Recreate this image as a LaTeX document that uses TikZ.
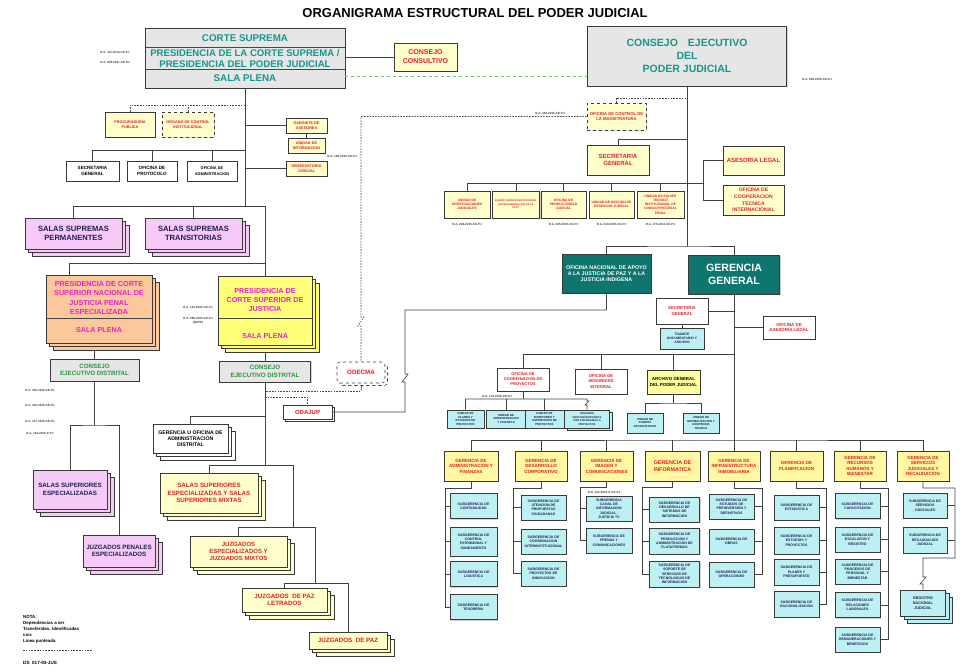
\documentclass[tikz,border=0pt]{standalone}
\usepackage{fontspec}
\setmainfont{Liberation Sans}
\usepackage{xcolor}
\usetikzlibrary{shadows}

\definecolor{redtxt}{RGB}{232,28,36}
\definecolor{tealtxt}{RGB}{22,150,140}
\definecolor{tealbox}{RGB}{14,118,110}
\definecolor{navytxt}{RGB}{30,30,85}
\definecolor{magtxt}{RGB}{238,30,205}
\definecolor{greentxt}{RGB}{40,150,60}
\definecolor{ylight}{RGB}{255,255,204}
\definecolor{ygold}{RGB}{255,248,160}
\definecolor{ybright}{RGB}{255,255,120}
\definecolor{orangebox}{RGB}{250,200,155}
\definecolor{pinkbox}{RGB}{246,202,246}
\definecolor{cyanbox}{RGB}{188,240,242}
\definecolor{grayfill}{RGB}{230,230,230}
\definecolor{panelc}{RGB}{196,196,226}
\definecolor{dashgreen}{RGB}{90,215,90}

\newcommand{\fsz}[2]{\fontsize{#1}{#2}\selectfont\bfseries}

\tikzset{box/.style={draw=gray!45!black, line width=0.55pt, align=center, inner sep=1pt,
                     drop shadow={shadow xshift=1.2pt, shadow yshift=-1.2pt, opacity=0.35}},
         graybox/.style={box, fill=grayfill},
         ybox/.style={box, fill=ylight, text=redtxt},
         wbox/.style={box, fill=white, text=black},
         rbox/.style={box, fill=white, text=redtxt},
         pbox/.style={box, fill=pinkbox, text=navytxt, stack},
         cbox/.style={box, fill=cyanbox, text=navytxt},
         tbox/.style={box, fill=tealbox, text=white},
         ger/.style={box, line width=0.75pt, fill=ygold, text=redtxt, font=\fsz{4.5}{5.5}, minimum height=30},
         sub/.style={cbox, font=\fsz{3.5}{4.3}, minimum width=45, minimum height=25},
         stack/.style={double copy shadow={shadow xshift=3.5pt, shadow yshift=-3.5pt}},
         lbl/.style={align=center, inner sep=0},
         ra/.style={font=\fsz{3}{3.6}, text=gray!50!black, inner sep=0, align=center},
         dline/.style={gray!60!black, line width=0.6pt, dash pattern=on 1.6pt off 1.2pt},
         conn/.style={gray!50!black, line width=0.6pt},
         panel/.style={draw=panelc, double=white, double distance=1.2pt, line width=0.5pt}}

\begin{document}
\begin{tikzpicture}[x=1pt, y=-1pt]
        \useasboundingbox (0,0) rectangle (965,671);

        % Panels
        \draw[panel] (10,200) rectangle (425,667);
        \draw[panel] (428,238) rectangle (962,667);

        % Title
        \node[lbl, font=\fsz{13}{15}] (title) at (475,13) {ORGANIGRAMA ESTRUCTURAL DEL PODER JUDICIAL};

        % Nodes: Corte Suprema
        \node[graybox, minimum width=200, minimum height=60] (cs) at (245,58) {};
        \node[lbl, text=tealtxt, font=\fsz{9.8}{10.4}] (cs1) at (245,38.5) {CORTE SUPREMA};
        \node[lbl, text=tealtxt, font=\fsz{9.6}{10.2}] (cs2) at (245,58.5) {PRESIDENCIA DE LA CORTE SUPREMA /\\PRESIDENCIA DEL PODER JUDICIAL};
        \node[lbl, text=tealtxt, font=\fsz{9.8}{10.4}] (cs3) at (245,78) {SALA PLENA};
        \draw[gray!55!black] (cs.west |- 0,47) -- (cs.east |- 0,47);
        \draw[gray!55!black] (cs.west |- 0,69) -- (cs.east |- 0,69);
        \node[ybox, minimum width=63, minimum height=28, font=\fsz{7}{9}] (ccons) at (425.5,57) {CONSEJO\\CONSULTIVO};
        \node[ra] (ra1) at (115,52) {R.A. 111-2016-CE-PJ};
        \node[ra] (ra2) at (115,62) {R.A. 209-2011-CE-PJ};

        \node[ybox, minimum width=50, minimum height=25, font=\fsz{3.8}{5}] (proc) at (130,124.5) {PROCURADURIA\\PUBLICA};
        \node[ybox, dashed, minimum width=52, minimum height=25, font=\fsz{3.8}{5}] (oci) at (188,124.5) {ORGANO DE CONTROL\\INSTITUCIONAL};
        \node[wbox, minimum width=53, minimum height=20, font=\fsz{4.6}{6.2}] (sgen) at (92.5,171) {SECRETARIA\\GENERAL};
        \node[wbox, minimum width=50, minimum height=20, font=\fsz{4.6}{6.2}] (prot) at (152,171) {OFICINA DE\\PROTOCOLO};
        \node[wbox, minimum width=50, minimum height=20, font=\fsz{3.9}{5.4}] (oadm) at (212,171) {OFICINA DE\\ADMINISTRACION};
        \node[ybox, minimum width=41, minimum height=15, font=\fsz{3.8}{4.8}] (gab) at (306.5,125.5) {GABINETE DE\\ASESORES};
        \node[ybox, minimum width=37, minimum height=15, font=\fsz{3.8}{4.8}] (uinf) at (306.5,145.5) {UNIDAD DE\\INFORMACION};
        \node[ybox, minimum width=41, minimum height=15, font=\fsz{3.8}{4.8}] (obs) at (306.5,168.5) {OBSERVATORIO\\JUDICIAL};
        \node[ra] (ra5) at (342,156) {R.A. 108-2016-CE-PJ};

        % Nodes: left panel
        \node[pbox, minimum width=97, minimum height=31, font=\fsz{7.6}{9}] (ssp) at (73.5,233.5) {SALAS SUPREMAS\\PERMANENTES};
        \node[pbox, minimum width=97, minimum height=31, font=\fsz{7.6}{9}] (sst) at (193.5,233.5) {SALAS SUPREMAS\\TRANSITORIAS};

        \node[box, fill=orangebox, stack, minimum width=106, minimum height=68] (psn) at (99,309) {};
        \node[lbl, text=magtxt, font=\fsz{7.2}{9.4}] (psn1) at (99,298) {PRESIDENCIA DE CORTE\\SUPERIOR NACIONAL DE\\JUSTICIA PENAL\\ESPECIALIZADA};
        \node[lbl, text=magtxt, font=\fsz{7.2}{9.4}] (psn2) at (99,330.5) {SALA PLENA};
        \draw[gray!55!black] (psn.west |- 0,318) -- (psn.east |- 0,318);

        \node[box, fill=ybright, stack, minimum width=94, minimum height=69] (psj) at (265,310.5) {};
        \node[lbl, text=magtxt, font=\fsz{7.2}{9.4}] (psj1) at (265,300) {PRESIDENCIA DE\\CORTE SUPERIOR DE\\JUSTICIA};
        \node[lbl, text=magtxt, font=\fsz{7.2}{9.4}] (psj2) at (265,336.5) {SALA PLENA};
        \draw[gray!55!black] (psj.west |- 0,318) -- (psj.east |- 0,318);
        \node[ra] (ra10) at (198,307) {R.A. 103-2016-CE-PJ};
        \node[ra] (ra11) at (198,321) {R.A. 096-2016-CE-PJ\\(NCPP)};

        \node[graybox, text=greentxt, minimum width=89, minimum height=22, font=\fsz{6.2}{7.7}] (ced1) at (94.5,370) {CONSEJO\\EJECUTIVO DISTRITAL};
        \node[graybox, text=greentxt, minimum width=91, minimum height=21, font=\fsz{6.2}{7.7}] (ced2) at (265,371.5) {CONSEJO\\EJECUTIVO DISTRITAL};
        \node[ra] (ra12) at (40,390) {R.A. 318-2016-CE-PJ};
        \node[ra] (ra13) at (40,405) {R.A. 316-2016-CE-PJ};
        \node[ra] (ra14) at (40,421) {R.A. 317-2016-CE-PJ};
        \node[ra] (ra15) at (40,433) {R.A. 318-2016-P-PJ};

        \node[pbox, minimum width=74, minimum height=39, font=\fsz{6.2}{7.3}] (sse) at (70,489.5) {SALAS SUPERIORES\\ESPECIALIZADAS};
        \node[pbox, minimum width=72, minimum height=32, font=\fsz{6.2}{7.3}] (jpe) at (119,551) {JUZGADOS PENALES\\ESPECIALIZADOS};

        \node[wbox, stack, minimum width=75, minimum height=29, font=\fsz{5.2}{6.2}] (goad) at (190.5,438.5) {GERENCIA U OFICINA DE\\ADMINISTRACION\\DISTRITAL};
        \node[ybox, stack, minimum width=98, minimum height=40, font=\fsz{6.2}{7.3}] (ssesm) at (209,493) {SALAS SUPERIORES\\ESPECIALIZADAS Y SALAS\\SUPERIORES MIXTAS};
        \node[ybox, stack, minimum width=97, minimum height=31, font=\fsz{6}{7.3}] (jem) at (238.5,551.5) {JUZGADOS\\ESPECIALIZADOS Y\\JUZGADOS MIXTOS};
        \node[ybox, stack, minimum width=85, minimum height=24, font=\fsz{6.2}{7.3}] (jpl) at (284.5,600) {JUZGADOS\ \ DE PAZ\\LETRADOS};
        \node[ybox, stack, minimum width=78, minimum height=17, font=\fsz{6.2}{7.3}] (jp) at (348,640.5) {JUZGADOS\ \ DE PAZ};

        \node[box, dashed, rounded corners=3pt, fill=white, text=redtxt, copy shadow={shadow xshift=2.5pt, shadow yshift=-2.5pt}, minimum width=48, minimum height=21, font=\fsz{6.2}{7}] (odecma) at (361,372.5) {ODECMA};
        \node[box, fill=white, text=redtxt, copy shadow={shadow xshift=2.5pt, shadow yshift=-2.5pt}, minimum width=49, minimum height=14, font=\fsz{6}{7}] (odajup) at (307.5,412) {ODAJUP};

        \node[lbl, align=left, anchor=north west, font=\fsz{4.4}{6}] (nota) at (23,615) {NOTA:\\Dependencias a ser\\Transferidas. Identificadas\\con:\\Linea punteada};
        \node[lbl, anchor=west, font=\fsz{4.6}{5}] (ds) at (23,663) {DS\ \ 017-93-JUS};
        \draw[dline] (nota.south west) ++(0,7) -- ++(70,0);

        % Nodes: Consejo Ejecutivo
        \node[graybox, text=tealtxt, minimum width=199, minimum height=60, font=\fsz{10.5}{12.7}] (ce) at (687,56) {CONSEJO\hspace{10pt}EJECUTIVO\\DEL\\PODER JUDICIAL};
        \node[ra] (ra3) at (817,79) {R.A. 000-2016-CE-PJ};
        \node[ra] (ra4) at (550,113) {R.A. 392-2015-CE-PJ};
        \node[ybox, dashed, minimum width=59, minimum height=27, font=\fsz{4.2}{5.6}] (ocma) at (616.5,116.5) {OFICINA DE CONTROL DE\\LA MAGISTRATURA};
        \node[ybox, minimum width=62, minimum height=30, font=\fsz{6}{7.7}] (sgce) at (618,160) {SECRETARIA\\GENERAL};
        \node[ybox, minimum width=61, minimum height=29, font=\fsz{6}{7.7}] (al) at (753.5,160.5) {ASESORIA LEGAL};
        \node[ybox, minimum width=61, minimum height=30, font=\fsz{5.1}{6.7}] (octi) at (753.5,200) {OFICINA DE\\COOPERACION\\TECNICA\\INTERNACIONAL};

        \node[ybox, minimum width=46, minimum height=27, font=\fsz{3.3}{4.3}] (u1) at (467,204.5) {UNIDAD DE\\INVESTIGACIONES\\JUDICIALES};
        \node[ybox, minimum width=47, minimum height=27, font=\fsz{2.5}{3.5}] (u2) at (516,204.5) {EQUIPO TECNICO INSTITUCIONAL\\DE IMPLEMENTACION DE LA\\NLPT};
        \node[ybox, minimum width=45, minimum height=27, font=\fsz{3.3}{4.3}] (u3) at (563.5,204.5) {OFICINA DE\\PRODUCTIVIDAD\\JUDICIAL};
        \node[ybox, minimum width=45, minimum height=27, font=\fsz{3.3}{4.3}] (u4) at (611.5,204.5) {UNIDAD DE GESTION DE\\DESPACHO JUDICIAL};
        \node[ybox, minimum width=47, minimum height=27, font=\fsz{3.3}{4.3}] (u5) at (660.5,204.5) {UNIDAD DE EQUIPO\\TECNICO\\INSTITUCIONAL DE\\CODIGO PROCESAL\\PENAL};
        \node[ra] (ra6) at (467,224) {R.A. 208-2015-CE-PJ};
        \node[ra] (ra7) at (563.5,224) {R.A. 325-2015-CE-PJ};
        \node[ra] (ra8) at (611.5,224) {R.A. 318-2015-CE-PJ};
        \node[ra] (ra9) at (660.5,224) {R.A. 178-2011-CE-PJ};

        % Nodes: right panel
        \node[tbox, minimum width=89, minimum height=39, font=\fsz{5.3}{6.3}] (onajup) at (606.5,273.5) {OFICINA NACIONAL DE APOYO\\A LA JUSTICIA DE PAZ Y A LA\\JUSTICIA INDIGENA};
        \node[tbox, minimum width=91, minimum height=39, font=\fsz{10.6}{13.5}] (gg) at (734,274.5) {GERENCIA\\GENERAL};
        \node[rbox, minimum width=52, minimum height=26, font=\fsz{4.3}{5.4}] (sggg) at (682,311) {SECRETARIA\\GENERAL};
        \node[cbox, minimum width=44, minimum height=21, font=\fsz{3.3}{4.2}] (tda) at (682,338.5) {TRAMITE\\DOCUMENTARIO Y\\ARCHIVO};
        \node[rbox, minimum width=52, minimum height=23, font=\fsz{4.4}{5.4}] (oal) at (789,327.5) {OFICINA DE\\ASESORIA LEGAL};
        \node[rbox, minimum width=52, minimum height=23, font=\fsz{4}{5}] (ocp) at (523,379.5) {OFICINA DE\\COORDINACION DE\\PROYECTOS};
        \node[rbox, minimum width=52, minimum height=25, font=\fsz{4.2}{5.4}] (osi) at (601,381.5) {OFICINA DE\\SEGURIDAD\\INTEGRAL};
        \node[box, fill=ybright!70, text=black, minimum width=53, minimum height=24, font=\fsz{4.4}{5.5}] (agpj) at (673.5,382) {ARCHIVO GENERAL\\DEL PODER JUDICIAL};
        \node[ra] (ra16) at (497,396) {R.A. 142-2016-CE-PJ};

        \node[cbox, minimum width=37, minimum height=18, font=\fsz{2.9}{3.6}] (up1) at (465.5,419) {UNIDAD DE\\PLANES Y\\ESTUDIOS DE\\PROYECTOS};
        \node[cbox, minimum width=40, minimum height=18, font=\fsz{2.9}{3.6}] (up2) at (506,419) {UNIDAD DE\\ADMINISTRACION\\Y FINANZAS};
        \node[cbox, minimum width=39, minimum height=18, font=\fsz{2.9}{3.6}] (up3) at (544.5,419) {UNIDAD DE\\MONITOREO Y\\SUPERVISION DE\\PROYECTOS};
        \node[cbox, copy shadow={shadow xshift=2.5pt, shadow yshift=-2.5pt}, minimum width=45, minimum height=18, font=\fsz{2.7}{3.5}] (up4) at (587,419) {ORGANOS\\DESCONCENTRADOS\\POR PROGRAMAS O\\PROYECTOS};
        \node[cbox, minimum width=36, minimum height=20, font=\fsz{2.9}{3.7}] (ua1) at (645,423) {UNIDAD DE\\FONDOS\\ARCHIVISTICOS};
        \node[cbox, minimum width=36, minimum height=20, font=\fsz{2.9}{3.7}] (ua2) at (701,423) {UNIDAD DE\\NORMALIZACION Y\\ASISTENCIA\\TECNICA};

        % Gerencias
        \node[ger, minimum width=54] (gadm) at (471,466) {GERENCIA DE\\ADMINISTRACION Y\\FINANZAS};
        \node[ger, minimum width=52] (gdes) at (541,466) {GERENCIA DE\\DESARROLLO\\CORPORATIVO};
        \node[ger, minimum width=53] (gima) at (606.5,466) {GERENCIA DE\\IMAGEN Y\\COMUNICACIONES};
        \node[ger, minimum width=55, font=\fsz{5.4}{6.8}] (ginf) at (672.5,466) {GERENCIA DE\\INFORMATICA};
        \node[ger, minimum width=52] (ginm) at (734,466) {GERENCIA DE\\INFRAESTRUCTURA\\INMOBILIARIA};
        \node[ger, minimum width=53] (gpla) at (796.5,466) {GERENCIA DE\\PLANIFICACION};
        \node[ger, minimum width=52] (grrh) at (860,466) {GERENCIA DE\\RECURSOS\\HUMANOS Y\\BIENESTAR};
        \node[ger, minimum width=52] (gser) at (923,466) {GERENCIA DE\\SERVICIOS\\JUDICIALES Y\\RECAUDACION};
        \node[ra] (ra17) at (604,492) {R.A. 101-2016-P-CE-PJ};

        % Subgerencias
        \node[sub, minimum width=47] (sa1) at (473.5,506) {SUBGERENCIA DE\\CONTABILIDAD};
        \node[sub, minimum width=47, minimum height=29] (sa2) at (473.5,541.5) {SUBGERENCIA DE\\CONTROL\\PATRIMONIAL Y\\SANEAMIENTO};
        \node[sub, minimum width=47] (sa3) at (473.5,574) {SUBGERENCIA DE\\LOGISTICA};
        \node[sub, minimum width=47] (sa4) at (473.5,607) {SUBGERENCIA DE\\TESORERIA};

        \node[sub] (sb1) at (543.5,507.5) {SUBGERENCIA DE\\ATENCION DE\\PROPUESTAS\\CIUDADANAS};
        \node[sub] (sb2) at (543.5,541.5) {SUBGERENCIA DE\\COORDINACION\\INTERINSTITUCIONAL};
        \node[sub] (sb3) at (543.5,573.5) {SUBGERENCIA DE\\PROYECTOS DE\\INNOVACION};

        \node[sub, minimum width=46] (sc1) at (609,508.5) {SUBGERENCIA\\CANAL DE\\INFORMACION\\JUDICIAL -\\JUSTICIA TV};
        \node[sub, minimum width=46] (sc2) at (609,540.5) {SUBGERENCIA DE\\PRENSA Y\\COMUNICACIONES};

        \node[sub, minimum width=50] (sd1) at (674.5,509.5) {SUBGERENCIA DE\\DESARROLLO DE\\SISTEMAS DE\\INFORMACION};
        \node[sub, minimum width=50, minimum height=26] (sd2) at (674.5,541) {SUBGERENCIA DE\\PRODUCCION Y\\ADMINISTRACION DE\\PLATAFORMAS};
        \node[sub, minimum width=50, minimum height=26] (sd3) at (674.5,574) {SUBGERENCIA DE\\SOPORTE DE\\SERVICIOS DE\\TECNOLOGIAS DE\\INFORMACION};

        \node[sub] (se1) at (731.5,506.5) {SUBGERENCIA DE\\ESTUDIOS DE\\PREINVERSION Y\\DEFINITIVOS};
        \node[sub] (se2) at (731.5,541.5) {SUBGERENCIA DE\\OBRAS};
        \node[sub] (se3) at (731.5,574.5) {SUBGERENCIA DE\\OPERACIONES};

        \node[sub] (sf1) at (796.5,507.5) {SUBGERENCIA DE\\ESTADISTICA};
        \node[sub, minimum height=27] (sf2) at (796.5,540.5) {SUBGERENCIA DE\\ESTUDIOS Y\\PROYECTOS};
        \node[sub, minimum height=26] (sf3) at (796.5,572) {SUBGERENCIA DE\\PLANES Y\\PRESUPUESTO};
        \node[sub, minimum height=26] (sf4) at (796.5,604) {SUBGERENCIA DE\\RACIONALIZACION};

        \node[sub] (sg1) at (857.5,506) {SUBGERENCIA DE\\CAPACITACION};
        \node[sub] (sg2) at (857.5,539.5) {SUBGERENCIA DE\\ESCALAFON Y\\REGISTRO};
        \node[sub] (sg3) at (857.5,571.5) {SUBGERENCIA DE\\PROCESOS DE\\PERSONAL Y\\BIENESTAR};
        \node[sub] (sg4) at (857.5,605) {SUBGERENCIA DE\\RELACIONES\\LABORALES};
        \node[sub] (sg5) at (857.5,639.5) {SUBGERENCIA DE\\REMUNERACIONES Y\\BENEFICIOS};

        \node[sub, minimum width=44] (sh1) at (925,505.5) {SUBGERENCIA DE\\SERVICIOS\\JUDICIALES};
        \node[sub, minimum width=44, minimum height=26] (sh2) at (925,540) {SUBGERENCIA DE\\RECAUDACION\\JUDICIAL};
        \node[sub, stack, minimum width=45, minimum height=26, font=\fsz{3.8}{4.8}] (rnj) at (923,603) {REGISTRO\\NACIONAL\\JUDICIAL};

        % Edges: Corte Suprema
        \coordinate (lb) at (73.5,206);
        \coordinate (rb) at (265,206);
        \coordinate (dp) at (245,105);
        \coordinate (wb) at (245,150);
        \coordinate (pb) at (69,263);
        \draw[conn] (cs.south) -- (cs.south |- lb);
        \draw[conn] (ssp.north) |- (rb) -- (psj.north);
        \draw[conn] (sst.north) -- (sst.north |- lb);
        \draw[conn] (psn.north -| pb) |- (psj.north |- pb);
        \draw[dline] (proc.north) |- (dp);
        \draw[dline] (oci.north) -- (oci.north |- dp);
        \draw[conn] (sgen.north) |- (wb);
        \draw[conn] (prot.north) -- (prot.north |- wb);
        \draw[conn] (oadm.north) -- (oadm.north |- wb);
        \draw[conn] (gab.west) -- (gab.west -| cs.south);
        \draw[conn] (gab.south) -- (uinf.north);
        \draw[conn] (obs.west) -- (obs.west -| cs.south);
        \draw[conn] (ccons.west) -- (ccons.west -| cs.east);
        \draw[dashed, dashgreen, line width=0.6pt] (cs.east |- 0,76) -- (ce.west |- 0,76);

        % Edges: distritos
        \coordinate (lk) at (94.5,425);
        \draw[conn] (ced1.north |- 0,350) -- (ced1.north);
        \draw[conn] (psj.south |- 0,352) -- (ced2.north);
        \draw[conn] (ced1.south) -- (lk);
        \draw[conn] (sse.north) |- (lk) -| (jpe.north);
        \draw[conn] (ced2.south) -- (265,465);
        \draw[conn] (goad.north) |- (265,416);
        \draw[conn] (ssesm.north) |- (293,465) -- (293,527);
        \draw[conn] (jem.north) |- (315,527) -- (315,583);
        \draw[conn] (jpl.north) |- (348,583) -- (jp.north);

        % Edges: ODECMA / ODAJUP
        \draw[dline] (ocma.west) -| (361,317) -- ++(3,0) -- ++(-6,9) -- ++(3,0) -- (odecma.north);
        \draw[dline] (odecma.south |- 0,386) |- (265,391);
        \draw[dline] (265,397) -| (odajup.north);
        \draw[conn] (odajup.east) -| (405,382) -- ++(-3,0) -- ++(6,-8) -- ++(-3,0) |- (onajup.south |- 0,310) -- (onajup.south);

        % Edges: Consejo Ejecutivo
        \coordinate (cev) at (687,98);
        \coordinate (ub) at (703,183);
        \coordinate (geb) at (687,246);
        \draw[dline] (ocma.north) |- (cev);
        \draw[conn] (sgce.north) |- (ce.south |- 0,139);
        \draw[conn] (u1.north) |- (ub);
        \foreach \u in {u2,u3,u4,u5} \draw[conn] (\u.north) -- (\u.north |- ub);
        \draw[conn] (al.west) -| (ub) |- (octi.west);
        \draw[conn] (ce.south) -- (geb);
        \draw[conn] (onajup.north) |- (geb) -| (gg.north);

        % Edges: Gerencia General
        \coordinate (gbus) at (734,440);
        \coordinate (mb) at (734,354);
        \coordinate (ob) at (523,399);
        \coordinate (ab) at (673.5,403);
        \draw[conn] (gg.south) -- (gbus);
        \draw[conn] (sggg.east) -- (sggg.east -| gg.south);
        \draw[conn] (sggg.south) -- (tda.north);
        \draw[conn] (oal.west) -- (oal.west -| gg.south);
        \draw[conn] (ocp.north) |- (mb);
        \draw[conn] (osi.north) -- (osi.north |- mb);
        \draw[conn] (agpj.north) -- (agpj.north |- mb);
        \draw[conn] (ocp.south) -- (ob);
        \draw[conn] (up1.north) |- (up4.north |- ob) -- ++(0,2) -- ++(2,0) -- ++(-4,4) -- ++(2,0) -- (up4.north);
        \draw[conn] (up2.north) -- (up2.north |- ob);
        \draw[conn] (up3.north) -- (up3.north |- ob);
        \draw[conn] (agpj.south) -- (ab);
        \draw[conn] (ua1.north) |- (ab) -| (ua2.north);
        \draw[conn] (gadm.north) |- (gbus) -| (gser.north);
        \foreach \g in {gdes,gima,ginf,ginm,gpla,grrh} \draw[conn] (\g.north) -- (\g.north |- gbus);

        % Edges: Subgerencias
        \coordinate (b1) at (445,488);
        \coordinate (b2) at (513,488);
        \coordinate (b3) at (580,487);
        \coordinate (b4) at (642,487);
        \coordinate (b5) at (762,488);
        \coordinate (b6) at (826,488);
        \coordinate (b7) at (888,488);
        \coordinate (b8) at (955,488);
        \draw[conn] (gadm.south) |- (b1) |- (sa4.west);
        \foreach \s in {sa1,sa2,sa3} \draw[conn] (\s.west) -- (\s.west -| b1);
        \draw[conn] (gdes.south) |- (b2) |- (sb3.west);
        \foreach \s in {sb1,sb2} \draw[conn] (\s.west) -- (\s.west -| b2);
        \draw[conn] (gima.south) |- (b3) |- (sc2.west);
        \draw[conn] (sc1.west) -- (sc1.west -| b3);
        \draw[conn] (ginf.south) |- (b4) |- (sd3.west);
        \foreach \s in {sd1,sd2} \draw[conn] (\s.west) -- (\s.west -| b4);
        \draw[conn] (ginm.south) |- (b5) |- (se3.east);
        \foreach \s in {se1,se2} \draw[conn] (\s.east) -- (\s.east -| b5);
        \draw[conn] (gpla.south) |- (b6) |- (sf4.east);
        \foreach \s in {sf1,sf2,sf3} \draw[conn] (\s.east) -- (\s.east -| b6);
        \draw[conn] (grrh.south) |- (b7) |- (sg5.east);
        \foreach \s in {sg1,sg2,sg3,sg4} \draw[conn] (\s.east) -- (\s.east -| b7);
        \draw[conn] (gser.south) |- (b8) |- (rnj.north |- 0,558) -- (rnj.north |- 0,577) -- ++(3,0) -- ++(-6,7) -- ++(3,0) -- (rnj.north);
        \foreach \s in {sh1,sh2} \draw[conn] (\s.east) -- (\s.east -| b8);
    \end{tikzpicture}
\end{document}
